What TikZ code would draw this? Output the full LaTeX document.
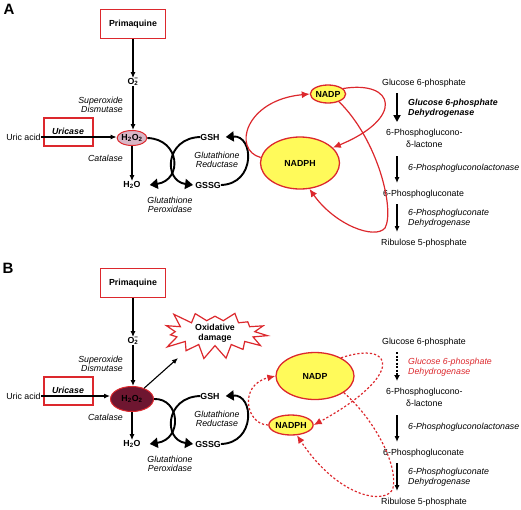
\documentclass[tikz,border=0pt]{standalone}
\usepackage{fontspec}
\setmainfont{Liberation Sans}
\usetikzlibrary{arrows.meta,shapes.geometric,shapes.symbols}
\definecolor{myred}{RGB}{220,40,45}
\definecolor{myyellow}{RGB}{255,250,90}
\definecolor{mypink}{RGB}{216,182,198}
\definecolor{mymaroon}{RGB}{110,22,48}
\tikzset{
  txt/.style={inner sep=0pt},
  bld/.style={font=\fontsize{8.8}{9.6}\selectfont\bfseries},
  it/.style={font=\fontsize{8.8}{9.6}\selectfont\itshape},
  bit/.style={font=\fontsize{8.8}{9.6}\selectfont\bfseries\itshape},
  drugbox/.style={draw=myred, line width=1.2pt, minimum width=65pt, minimum height=29pt, inner sep=0pt, font=\fontsize{8.8}{9.6}\selectfont\bfseries},
  redbox/.style={draw=myred, line width=1.2pt, minimum width=49pt, minimum height=28pt, inner sep=0pt},
  arr/.style={-{Latex[length=6pt,width=5pt]}, line width=1.1pt},
  cyc/.style={-{Triangle[length=8pt,width=10pt]}, line width=1.9pt},
  redarr/.style={draw=myred, line width=1.2pt, -{Latex[length=8pt,width=7pt]}, color=myred},
  reddash/.style={redarr, dash pattern=on 2.2pt off 2pt},
  yell/.style={ellipse, draw=myred, line width=1.3pt, fill=myyellow, inner sep=0pt, font=\fontsize{8.8}{9.6}\selectfont\bfseries},
  panellabel/.style={inner sep=0pt, font=\fontsize{15}{15}\selectfont\bfseries}
}
% common left part of a panel; #1 = prefix of node names
\newcommand{\leftpart}[1]{%
  \node[drugbox] (#1prim) at (133,24) {Primaquine};
  \node[txt,bld] (#1o2) at (133,82) {O\rlap{\textsubscript{2}}\textsuperscript{−}};
  \node[txt] (#1uric) at (23.5,137) {Uric acid};
  \node[redbox] (#1ubox) at (68.5,132) {};
  \node[txt,bit] (#1uricase) at (68,131.5) {Uricase};
  \node[txt,it,align=right,anchor=east] (#1sod) at (123,105) {Superoxide\\Dismutase};
  \node[txt,it,anchor=east] (#1cat) at (123,158) {Catalase};
  \node[txt,bld] (#1h2o) at (132,185) {H\textsubscript{2}O};
  \node[txt,bld] (#1gsh) at (210,137) {GSH};
  \node[txt,bld] (#1gssg) at (208,185) {GSSG};
  \node[txt,it,align=center] (#1gpx) at (170,205) {Glutathione\\Peroxidase};
  \node[txt,it,align=center] (#1gr) at (217,160) {Glutathione\\Reductase};
  \draw[arr] (#1prim.south |- #1prim.south) -- (#1prim.south |- #1o2.north);
  \draw[arr] (#1prim.south |- #1o2.south) -- (#1prim.south |- #1h2o2.north);
  \draw[arr] (#1uric.east) -- (#1uric.east -| #1h2o2.west);
  \draw[arr] (#1h2o2) -- (#1h2o);
  \draw[cyc] (#1h2o2.east) .. controls (180,139) and (183,180) .. ([xshift=9pt]#1h2o.east);
  \draw[cyc] (#1gsh.west) .. controls (165,138) and (163,181) .. ([xshift=-2pt]#1gssg.west);
  \draw[cyc] (#1gssg.east) .. controls (256,184) and (254,135) .. ([xshift=6pt]#1gsh.east);
}
% common pathway text; #1 = prefix, #2 = style of the G6PD label
\newcommand{\pathway}[2]{%
  \node[txt] (#1glc) at (424,83) {Glucose 6-phosphate};
  \node[txt,anchor=west,align=left,#2] (#1gpd) at (408,108) {Glucose 6-phosphate\\Dehydrogenase};
  \node[txt,anchor=west] (#1pgl) at (386,133) {6-Phosphoglucono-};
  \node[txt,anchor=west] (#1lac) at (406,144) {δ-lactone};
  \node[txt,anchor=west,it] (#1pgln) at (408,168) {6-Phosphogluconolactonase};
  \node[txt,anchor=west] (#1pg) at (383,194) {6-Phosphogluconate};
  \node[txt,anchor=west,align=left,it] (#1pgd) at (408,218) {6-Phosphogluconate\\Dehydrogenase};
  \node[txt,anchor=west] (#1ru) at (381,243) {Ribulose 5-phosphate};
  \coordinate (#1s1) at (397,93);  \coordinate (#1e1) at (397,122);
  \coordinate (#1s2) at (397,156); \coordinate (#1e2) at (397,183);
  \coordinate (#1s3) at (397,204); \coordinate (#1e3) at (397,232);
  \draw[arr] (#1s2) -- (#1e2);
  \draw[arr] (#1s3) -- (#1e3);
}
\begin{document}
\begin{tikzpicture}[x=1pt,y=-1pt,font=\fontsize{8.8}{9.6}\selectfont]
\useasboundingbox (0,0) rectangle (521,509);
% ---------------- Panel A ----------------
\node[panellabel] (labA) at (9,9) {A};
\node[ellipse, draw=myred, line width=1pt, fill=mypink, inner sep=0pt, minimum width=28pt, minimum height=15pt, font=\fontsize{8.8}{9.6}\selectfont\bfseries] (ah2o2) at (132,138) {H\textsubscript{2}O\textsubscript{2}};
\leftpart{a}
\pathway{a}{bit}
\draw[-{Triangle[length=7pt,width=7pt]}, line width=2.6pt] (as1) -- (ae1);
\node[yell, minimum width=35pt, minimum height=18pt] (aNADP) at (328,94) {NADP};
\node[yell, minimum width=79pt, minimum height=52pt] (aNADPH) at (300,163) {NADPH};
\draw[redarr] (aNADPH.172) .. controls (232,150) and (245,100) .. (aNADP.west);
\draw[redarr] (aNADP.20) .. controls (395,80) and (405,118) .. (aNADPH.25);
\draw[redarr] (aNADP.-35) .. controls (378,140) and (395,210) .. (385,228) .. controls (375,240) and (335,225) .. (aNADPH.-70);
% ---------------- Panel B ----------------
\node[panellabel] (labB) at (8,268) {B};
\begin{scope}[shift={(0,259)}]
\node[ellipse, draw=myred, line width=1pt, fill=mymaroon, inner sep=0pt, minimum width=43pt, minimum height=25pt, font=\fontsize{8.8}{9.6}\selectfont\bfseries] (bh2o2) at (132,140) {H\textsubscript{2}O\textsubscript{2}};
\leftpart{b}
\pathway{b}{it,text=myred}
\draw[-{Latex[length=6pt,width=6pt]}, line width=2pt, dash pattern=on 2pt off 1.5pt] (bs1) -- (be1);
\end{scope}
\node[starburst, random starburst=23, starburst points=15, starburst point height=16pt, draw=myred, line width=1.2pt, fill=white, minimum width=112pt, minimum height=52pt, inner sep=0pt, align=center, font=\fontsize{8.8}{9.6}\selectfont\bfseries] (burst) at (215,333) {Oxidative\\damage};
\coordinate (dmg) at (178,358);
\draw[arr] (bh2o2) -- (dmg);
\node[yell, minimum width=78pt, minimum height=47pt] (bNADP) at (315,376) {NADP};
\node[yell, minimum width=40pt, minimum height=20pt] (bNADPH) at (291,425) {NADPH};
\draw[reddash] (bNADPH.west) .. controls (246,425) and (238,385) .. (bNADP.west);
\draw[reddash] (bNADP.35) .. controls (395,340) and (405,375) .. (bNADPH.east);
\draw[reddash] (bNADP.-30) .. controls (375,420) and (398,465) .. (393,488) .. controls (388,505) and (340,500) .. (bNADPH.-60);
\end{tikzpicture}
\end{document}
